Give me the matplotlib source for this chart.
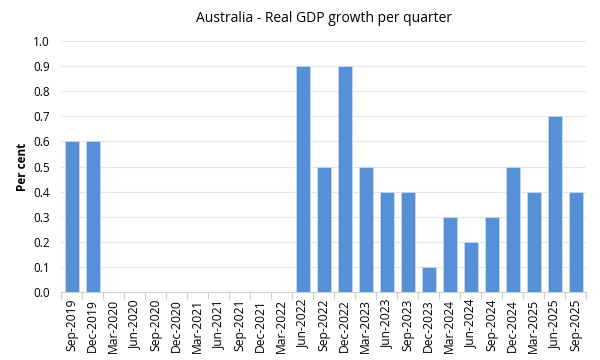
import numpy as np
import matplotlib
matplotlib.use("Agg")
import matplotlib.pyplot as plt

QUARTERS = ["Sep-2019", "Dec-2019", "Mar-2020", "Jun-2020", "Sep-2020", "Dec-2020",
            "Mar-2021", "Jun-2021", "Sep-2021", "Dec-2021", "Mar-2022", "Jun-2022",
            "Sep-2022", "Dec-2022", "Mar-2023", "Jun-2023", "Sep-2023", "Dec-2023",
            "Mar-2024", "Jun-2024", "Sep-2024", "Dec-2024", "Mar-2025", "Jun-2025",
            "Sep-2025"]
# blank quarters (not shown in the source) left as nan
GROWTH = [0.6, 0.6, np.nan, np.nan, np.nan, np.nan, np.nan, np.nan, np.nan, np.nan,
          np.nan, 0.9, 0.5, 0.9, 0.5, 0.4, 0.4, 0.1, 0.3, 0.2, 0.3, 0.5, 0.4, 0.7, 0.4]
YTICKS = [0.0, 0.1, 0.2, 0.3, 0.4, 0.5, 0.6, 0.7, 0.8, 0.9, 1.0]

plt.rcParams["font.family"] = ["Open Sans", "DejaVu Sans"]
fig = plt.figure(figsize=(6, 3.6), dpi=100)
ax = fig.add_axes([0.102, 0.189, 0.875, 0.697])

x = np.arange(len(QUARTERS))
vals = np.nan_to_num(np.array(GROWTH, dtype=float))
mask = ~np.isnan(np.array(GROWTH, dtype=float))
ax.bar(x[mask], vals[mask], width=0.67, color="#5690d6", edgecolor="#c7d9f0",
       linewidth=0.6, zorder=3)

ax.set_xlim(-0.5, len(QUARTERS) - 0.5)
ax.set_ylim(0, 1.0)
ax.set_yticks(YTICKS)
ax.set_yticklabels(["%.1f" % v for v in YTICKS], fontsize=8.5)
ax.yaxis.grid(True, color="#e6e6e6", lw=0.8, zorder=0)
ax.tick_params(axis="y", length=0, pad=8)

ax.set_xticks(x)
ax.set_xticklabels(QUARTERS, rotation=90, fontsize=8.7)
ax.tick_params(axis="x", length=0, pad=5)
ax.set_xticks(np.arange(len(QUARTERS) + 1) - 0.5, minor=True)
ax.tick_params(axis="x", which="minor", length=5, color="#d0d0d0", width=0.8)

for s in ["top", "right", "left"]:
    ax.spines[s].set_visible(False)
ax.spines["bottom"].set_color("#d0d0d0")
ax.spines["bottom"].set_linewidth(0.8)

ax.set_ylabel("Per cent", fontsize=8.5, fontweight="bold", labelpad=3)
ax.set_title("Australia - Real GDP growth per quarter", fontsize=10, pad=14)

fig.savefig("out.png", dpi=100)
